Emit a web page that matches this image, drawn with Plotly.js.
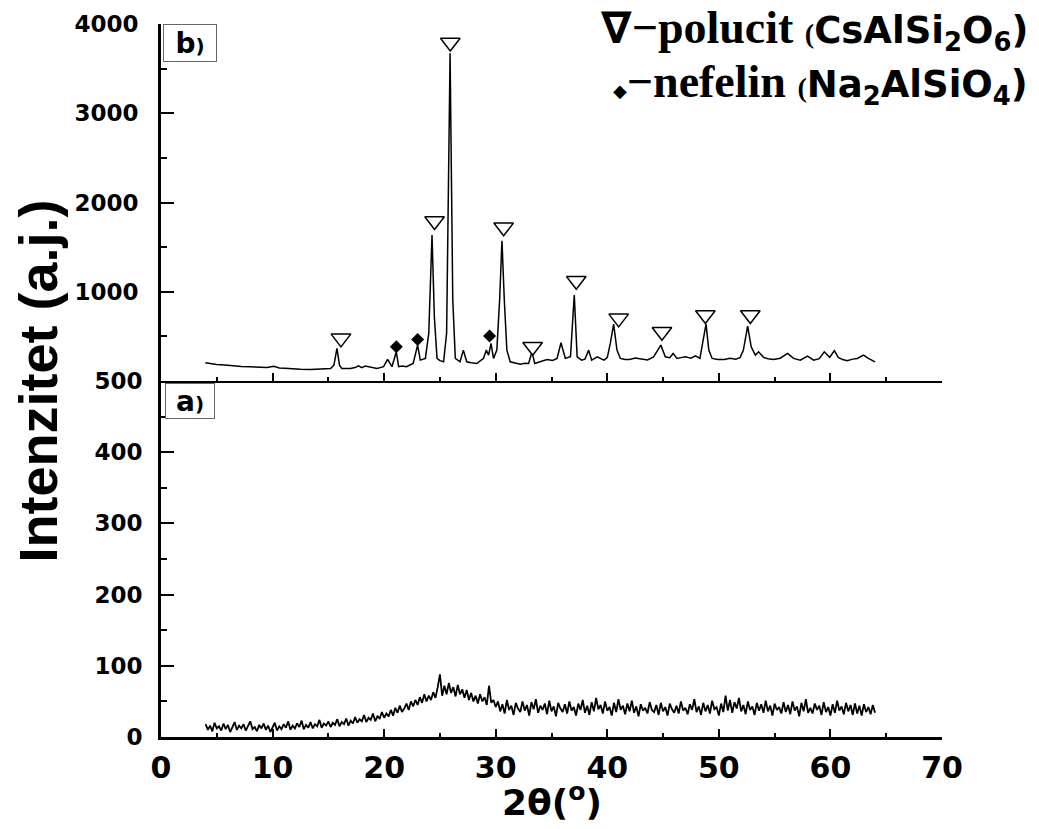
<!DOCTYPE html>
<html>
<head>
<meta charset="utf-8">
<script src="https://cdn.plot.ly/plotly-3.0.1.min.js"></script>
<style>html,body{margin:0;padding:0;background:#fff;}#chart{width:1039px;height:829px;}</style>
</head>
<body>
<div id="chart"></div>
<script>
// ---- Panel b) : crystalline sample (top panel), 2-theta vs intensity ----
var bTheta = [3.97,4.5,5.0,5.7,6.5,7.2,8.0,8.8,9.5,10.1,10.6,11.1,11.6,12.5,13.4,14.3,15.2,15.5,15.77,16.0,16.2,16.97,17.4,17.7,18.0,18.3,18.8,19.36,19.95,20.31,20.7,21.09,21.3,21.6,22.0,22.6,23.0,23.24,23.7,24.0,24.29,24.5,24.74,25.0,25.33,25.6,25.91,26.15,26.38,26.8,27.1,27.4,27.8,28.3,28.9,29.16,29.36,29.58,29.8,30.1,30.35,30.56,30.77,31.0,31.3,31.7,32.2,32.6,32.95,33.25,33.5,33.9,34.6,35.1,35.5,35.85,36.24,36.7,37.04,37.3,37.7,38.0,38.33,38.6,39.1,39.7,40.0,40.27,40.57,40.87,41.17,41.6,42.0,42.5,43.0,43.6,44.15,44.5,44.8,45.2,45.6,45.9,46.25,46.6,47.0,47.5,47.9,48.3,48.6,48.85,49.1,49.4,49.9,50.5,51.0,51.5,51.9,52.2,52.58,52.9,53.27,53.56,54.0,54.4,54.9,55.5,56.16,56.7,57.3,57.95,58.5,59.0,59.45,59.93,60.35,60.7,61.1,61.5,62.0,62.4,62.97,63.4,64.0];
var bInt = [204,192,186,178,167,162,159,152,150,165,145,142,137,133,130,136,141,178,365,178,141,141,150,171,150,167,152,141,160,242,160,327,160,168,160,197,402,234,253,537,1636,720,253,228,215,537,3673,907,253,215,346,215,205,196,253,346,290,421,253,346,907,1572,907,346,215,200,189,200,196,327,196,212,240,230,253,428,253,271,963,271,234,245,346,234,271,234,262,421,638,346,253,240,242,258,250,236,271,346,402,271,262,309,253,262,271,255,282,253,459,638,346,253,240,242,255,245,262,346,615,383,290,327,265,250,242,255,309,253,234,279,234,250,327,265,339,265,240,226,245,253,290,253,215];

// ---- Panel a) : amorphous sample (bottom panel), sampled every 0.2 deg from 4.0 to 64.0 ----
var aTheta0 = 4.0, aStep = 0.2;
var aInt = [
 18,10,16,8,20,12,15,9,19,11,17,7,14,21,10,16,12,18,9,15,22,11,14,8,17,12,19,10,16,7,13,
 20,9,15,11,18,13,22,10,16,12,19,14,23,11,17,13,21,12,18,15,24,13,19,16,22,14,20,17,25,15,
 21,18,26,16,23,19,28,20,25,22,31,21,27,24,33,22,29,26,35,27,
 33,29,38,30,41,34,44,35,40,47,38,50,43,52,45,56,48,60,50,58,
 52,63,55,70,88,58,72,60,76,62,70,57,73,60,67,
 55,66,52,62,50,58,47,60,50,56,45,72,48,52,42,
 50,36,46,33,52,38,44,31,48,40,
 35,50,37,45,30,49,39,53,34,44,
 38,47,32,51,36,43,29,48,40,35,
 46,33,50,37,42,30,47,38,52,34,
 44,31,49,36,55,39,45,33,50,37,
 42,30,48,35,53,38,44,32,47,36,
 51,34,43,29,46,37,41,33,49,38,
 35,45,31,48,36,42,30,47,39,34,
 44,33,50,37,41,32,46,38,53,35,
 43,31,48,36,45,33,51,39,42,30,
 47,35,58,37,52,34,49,40,55,36,
 45,32,50,38,43,31,48,37,46,34,
 51,36,44,30,47,38,42,33,49,35,
 45,32,50,37,43,29,48,36,53,34,
 41,33,47,38,44,31,49,35,42,30,
 46,34,51,37,43,32,48,36,45,31,
 47,33,44,30,46,35,42,32,45,34
];

// ---- Phase markers (panel b) ----
var polucitTheta = [16.13,24.52,25.93,30.71,33.31,37.22,41.02,44.9,48.79,52.82];
var polucitMark  = [478,1793,3792,1722,383,1123,702,552,739,739];
var nefelinTheta = [21.09,23.0,29.45];
var nefelinMark  = [383,466,503];

// ---- Axis ticks ----
var xTicks = [0,10,20,30,40,50,60,70];
var aTicks = [0,100,200,300,400,500];
var bTicks = [1000,2000,3000,4000];
var bMinor = [500,1500,2500,3500];

var tickFont = {family:'DejaVu Sans, Verdana, sans-serif', size:23, color:'#000', weight:'bold'};

var traces = [
  {x:bTheta, y:bInt, xaxis:'x2', yaxis:'y2', type:'scatter', mode:'lines',
   line:{color:'#000', width:1.5}, hoverinfo:'skip'},
  {x0:aTheta0, dx:aStep, y:aInt, xaxis:'x', yaxis:'y', type:'scatter', mode:'lines',
   line:{color:'#000', width:1.8}, hoverinfo:'skip'},
  {x:polucitTheta, y:polucitMark, xaxis:'x2', yaxis:'y2', type:'scatter', mode:'markers',
   marker:{symbol:'triangle-down', size:17, color:'#fff', line:{color:'#000', width:1.5}}},
  {x:nefelinTheta, y:nefelinMark, xaxis:'x2', yaxis:'y2', type:'scatter', mode:'markers',
   marker:{symbol:'diamond', size:10, color:'#000', line:{width:0}}}
];

var split = 0.4993;
var layout = {
  width:1039, height:829,
  margin:{l:161, r:97, t:24, b:92},
  paper_bgcolor:'#fff', plot_bgcolor:'#fff',
  showlegend:false,
  xaxis:{domain:[0,1], range:[0,70], anchor:'y', tickvals:xTicks, ticks:'inside', ticklen:8, tickwidth:2,
         tickcolor:'#000', showline:true, linewidth:2.5, linecolor:'#000', showgrid:false, zeroline:false,
         minor:{dtick:5, tick0:0, ticks:'inside', ticklen:4, tickwidth:2, tickcolor:'#000', showgrid:false},
         tickfont:{family:'DejaVu Sans, Verdana, sans-serif', size:30, color:'#000', weight:'bold'},
         ticklabelstandoff:2},
  yaxis:{domain:[0,split], range:[0,500], anchor:'x', tickvals:aTicks, ticks:'inside', ticklen:13, tickwidth:2,
         tickcolor:'#000', showline:true, linewidth:3, linecolor:'#000', showgrid:false, zeroline:false,
         minor:{dtick:50, tick0:0, ticks:'inside', ticklen:6, tickwidth:2, tickcolor:'#000', showgrid:false},
         tickfont:tickFont, ticklabelstandoff:11},
  xaxis2:{domain:[0,1], range:[0,70], anchor:'y2', matches:'x', tickvals:xTicks, showticklabels:false,
         ticks:'inside', ticklen:8, tickwidth:2, tickcolor:'#000', showline:true, linewidth:2.5, linecolor:'#000',
         showgrid:false, zeroline:false,
         minor:{dtick:5, tick0:0, ticks:'inside', ticklen:4, tickwidth:2, tickcolor:'#000', showgrid:false}},
  yaxis2:{domain:[split,1], range:[0,4000], anchor:'x2', tickvals:bTicks, ticks:'inside', ticklen:13, tickwidth:2,
         tickcolor:'#000', showline:true, linewidth:3, linecolor:'#000', showgrid:false, zeroline:false,
         minor:{tickvals:bMinor, ticks:'inside', ticklen:6, tickwidth:2, tickcolor:'#000', showgrid:false},
         tickfont:tickFont, ticklabelstandoff:15},
  annotations:[
    {xref:'paper', yref:'paper', x:-0.1575, y:0.5, xanchor:'center', yanchor:'middle', textangle:-90,
     text:'Intenzitet (a.j.)', showarrow:false,
     font:{family:'Liberation Sans, Arial, sans-serif', size:54, color:'#000', weight:'bold'}},
    {xref:'paper', yref:'paper', x:0.5, y:-0.1235, xanchor:'center', yanchor:'bottom',
     text:'2θ(<sup>o</sup>)', showarrow:false,
     font:{family:'DejaVu Sans, Verdana, sans-serif', size:36, color:'#000', weight:'bold'}},
    {xref:'paper', yref:'paper', x:0.003, y:1, xanchor:'left', yanchor:'top', showarrow:false,
     text:'b<span style="font-size:20px">)</span>', width:46, height:30, borderpad:3, borderwidth:1,
     bordercolor:'#666', bgcolor:'#fff', align:'center',
     font:{family:'DejaVu Sans, Verdana, sans-serif', size:28, color:'#000', weight:'bold'}},
    {xref:'paper', yref:'paper', x:0.005, y:split-0.003, xanchor:'left', yanchor:'top', showarrow:false,
     text:'a<span style="font-size:20px">)</span>', width:42, height:28, borderpad:3, borderwidth:1,
     bordercolor:'#666', bgcolor:'#fff', align:'center',
     font:{family:'DejaVu Sans, Verdana, sans-serif', size:28, color:'#000', weight:'bold'}},
    {xref:'paper', yref:'paper', x:1.1127, y:0.992, xanchor:'right', yanchor:'middle', showarrow:false,
     text:'<span style="font-size:44px">∇</span><span style="font-family:Liberation Serif;font-size:46px">−polucit </span><span style="font-family:Liberation Serif;font-size:28px">(</span>CsAlSi<sub>2</sub>O<sub>6</sub>)',
     font:{family:'DejaVu Sans, Verdana, sans-serif', size:37, color:'#000', weight:'bold'}},
    {xref:'paper', yref:'paper', x:1.1127, y:0.916, xanchor:'right', yanchor:'middle', showarrow:false,
     text:'<span style="font-size:18px">◆</span><span style="font-family:Liberation Serif;font-size:46px">−nefelin </span><span style="font-family:Liberation Serif;font-size:28px">(</span>Na<sub>2</sub>AlSiO<sub>4</sub>)',
     font:{family:'DejaVu Sans, Verdana, sans-serif', size:37, color:'#000', weight:'bold'}}
  ]
};

Plotly.newPlot('chart', traces, layout, {staticPlot:true, displayModeBar:false});
</script>
</body>
</html>
